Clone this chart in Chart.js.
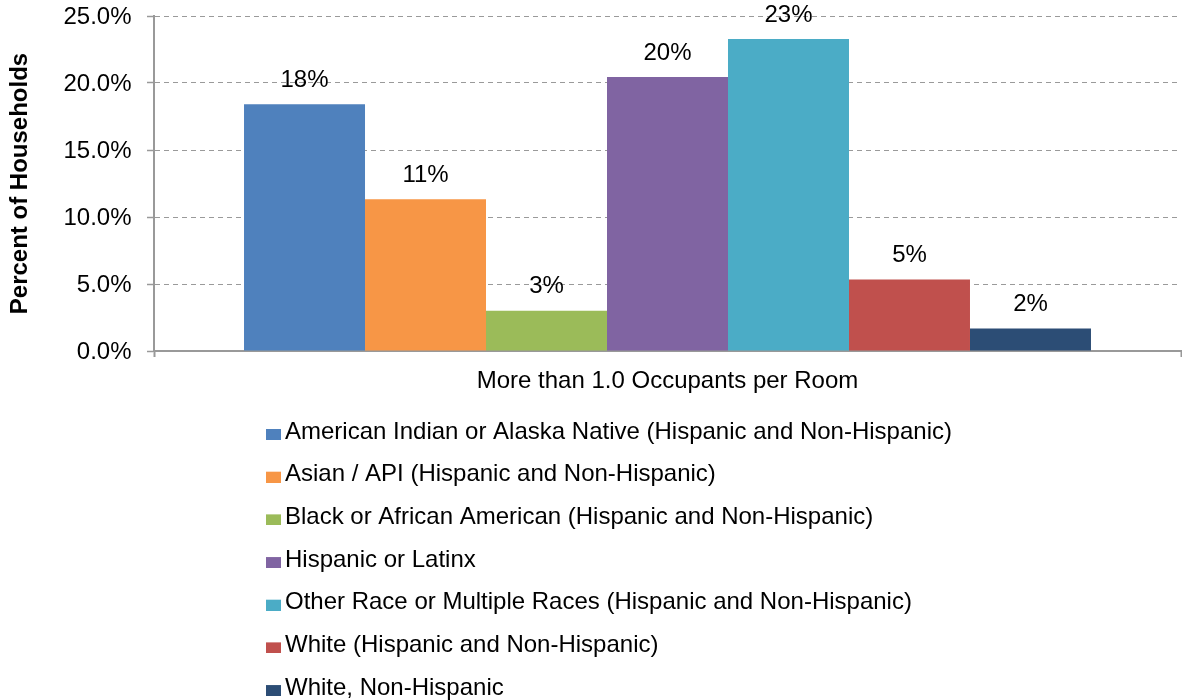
<!DOCTYPE html>
<html>
<head>
<meta charset="utf-8">
<script src="https://cdn.jsdelivr.net/npm/chart.js@4/dist/chart.umd.min.js"></script>
<style>
  html, body { margin: 0; padding: 0; background: #fff; }
  #wrap { width: 1182px; height: 700px; }
</style>
</head>
<body>
<div id="wrap"><canvas id="c" width="1182" height="700"></canvas></div>
<script>
// ---- data ----
const categories = ['More than 1.0 Occupants per Room'];
const seriesNames = [
  'American Indian or Alaska Native (Hispanic and Non-Hispanic)',
  'Asian / API (Hispanic and Non-Hispanic)',
  'Black or African American (Hispanic and Non-Hispanic)',
  'Hispanic or Latinx',
  'Other Race or Multiple Races (Hispanic and Non-Hispanic)',
  'White (Hispanic and Non-Hispanic)',
  'White, Non-Hispanic'
];
const aianValues = [18.42];
const asianValues = [11.32];
const blackValues = [3.01];
const hispanicValues = [20.44];
const otherValues = [23.28];
const whiteValues = [5.33];
const whiteNHValues = [1.67];
const yTickValues = [0, 5, 10, 15, 20, 25];
const yTickLabels = ['0.0%', '5.0%', '10.0%', '15.0%', '20.0%', '25.0%'];
const yAxisTitle = 'Percent of Households';

// ---- styles ----
const seriesColors = ['#4F81BD', '#F79646', '#9BBB59', '#8064A2', '#4BACC6', '#C0504D', '#2C4D75'];
const FONT_FAMILY = '"Liberation Sans", Arial, sans-serif';
const FONT_SIZE = 24;
Chart.defaults.font.family = FONT_FAMILY;
Chart.defaults.font.size = FONT_SIZE;
Chart.defaults.color = '#000';

const seriesValues = [aianValues, asianValues, blackValues, hispanicValues, otherValues, whiteValues, whiteNHValues];

// legend key canvases (box offset so it sits left of text with a small gap)
function makeKey(color) {
  const cv = document.createElement('canvas');
  cv.width = 18; cv.height = 16;
  const c = cv.getContext('2d');
  c.fillStyle = color;
  c.fillRect(3, 5, 15, 11);
  return cv;
}

const LEGEND_PAD = 18.67;
const LEGEND_H = 294.2;
const LEGEND_X = 271;
const LEGEND_Y = 432 - 12 - LEGEND_PAD;

const legendLayout = {
  id: 'legendLayout',
  beforeLayout(chart) {
    const lg = chart.legend;
    if (lg && !lg._patched) {
      lg._patched = true;
      const fit = lg.fit;
      lg.fit = function () { fit.call(this); this.height = LEGEND_H; };
      const draw = lg._draw;
      lg._draw = function () {
        const saved = { left: this.left, right: this.right, top: this.top };
        this.left = LEGEND_X - LEGEND_PAD;
        this.right = this.left + 1;
        this.top = LEGEND_Y;
        draw.call(this);
        this.left = saved.left; this.right = saved.right; this.top = saved.top;
      };
    }
  }
};

const valueLabels = {
  id: 'valueLabels',
  afterDatasetsDraw(chart) {
    const ctx = chart.ctx;
    ctx.save();
    ctx.font = FONT_SIZE + 'px ' + FONT_FAMILY;
    ctx.fillStyle = '#000';
    ctx.textAlign = 'center';
    ctx.textBaseline = 'middle';
    chart.data.datasets.forEach((ds, i) => {
      const meta = chart.getDatasetMeta(i);
      meta.data.forEach((el, j) => {
        ctx.fillText(Math.round(ds.data[j]) + '%', el.x, el.y - 24);
      });
    });
    ctx.restore();
  }
};

new Chart(document.getElementById('c'), {
  type: 'bar',
  data: {
    labels: categories,
    datasets: seriesNames.map((name, i) => ({
      label: name,
      data: seriesValues[i],
      backgroundColor: seriesColors[i],
      borderWidth: 0,
      categoryPercentage: 0.8247,
      barPercentage: 1.0
    }))
  },
  options: {
    responsive: false,
    animation: false,
    events: [],
    layout: { padding: { left: 1.6, right: 1, top: 16, bottom: 0 } },
    plugins: {
      tooltip: { enabled: false },
      legend: {
        position: 'bottom',
        align: 'start',
        labels: {
          usePointStyle: true,
          boxWidth: 2,
          padding: LEGEND_PAD,
          color: '#000',
          font: { size: FONT_SIZE, family: FONT_FAMILY },
          generateLabels(chart) {
            const items = Chart.defaults.plugins.legend.labels.generateLabels(chart);
            items.forEach((it, i) => { it.pointStyle = makeKey(seriesColors[i]); it.lineWidth = 0; });
            return items;
          }
        }
      }
    },
    scales: {
      x: {
        grid: {
          display: true,
          drawOnChartArea: false,
          drawTicks: true,
          tickLength: 6,
          color: '#999',
          tickWidth: 2
        },
        border: { display: true, color: '#999', width: 2 },
        ticks: { padding: 10, color: '#000', font: { size: FONT_SIZE } },
        afterFit(s) { s.paddingLeft = 0; s.paddingRight = 0; }
      },
      y: {
        min: 0,
        max: 25,
        afterBuildTicks(scale) { scale.ticks = yTickValues.map(v => ({ value: v })); },
        afterFit(s) { s.width = 152.4; s.paddingTop = 0; s.paddingBottom = 0; },
        ticks: {
          padding: 15.5,
          labelOffset: 1.5,
          color: '#000',
          font: { size: FONT_SIZE },
          callback(value, index) { return yTickLabels[index]; }
        },
        grid: {
          color: '#9a9a9a',
          lineWidth: 1,
          drawTicks: true,
          tickLength: 7,
          tickColor: '#999',
          tickWidth: 1.5
        },
        border: { display: true, color: '#999', width: 2, dash: [5, 4] },
        title: {
          display: true,
          text: yAxisTitle,
          color: '#000',
          font: { size: FONT_SIZE, weight: 'bold' },
          padding: { top: 4, bottom: 13 }
        }
      }
    }
  },
  plugins: [legendLayout, valueLabels]
});
</script>
</body>
</html>
